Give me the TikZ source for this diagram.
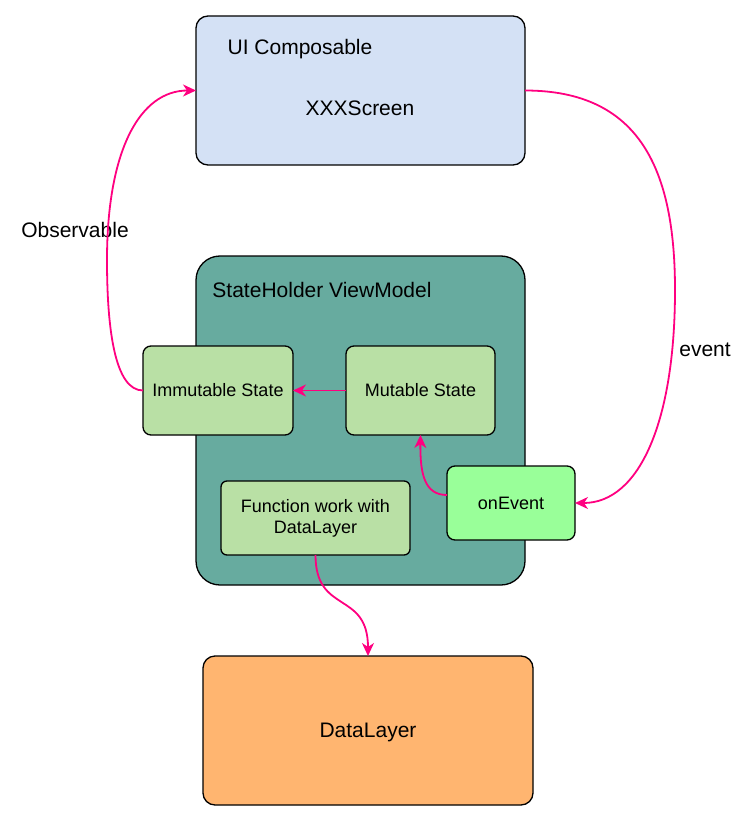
\documentclass[tikz,border=0pt]{standalone}
\usepackage{fontspec}
\setmainfont{Liberation Sans}
\usetikzlibrary{arrows.meta}
\definecolor{uiblue}{HTML}{D4E1F5}
\definecolor{shteal}{HTML}{67AB9F}
\definecolor{lgreen}{HTML}{B9E0A5}
\definecolor{brgreen}{HTML}{99FF99}
\definecolor{orng}{HTML}{FFB570}
\definecolor{pinkc}{HTML}{FF0080}
\begin{document}
\begin{tikzpicture}[x=1pt,y=-1pt,
  box/.style={draw=black, line width=1.3pt, rectangle, outer sep=0pt, inner sep=0pt},
  conn/.style={draw=pinkc, line width=1.8pt, -{Stealth[length=13pt,width=12pt,inset=4pt]}},
  big/.style={font=\fontsize{21}{25}\selectfont},
  small/.style={font=\fontsize{18}{21}\selectfont}]
\useasboundingbox (0,0) rectangle (745,834);
\node[box, fill=uiblue, rounded corners=12pt, minimum width=329pt, minimum height=149pt] (ui) at (360.5,90.5) {};
\node[big] (uilbl) at (300,49.5) {UI Composable};
\node[big] (scr) at (360,108.5) {XXXScreen};
\node[box, fill=shteal, rounded corners=24pt, minimum width=329pt, minimum height=329pt] (sh) at (360.5,420.5) {};
\node[big] (shlbl) at (322,289.5) {StateHolder ViewModel};
\node[box, fill=lgreen, rounded corners=8pt, minimum width=150pt, minimum height=89pt, small] (imm) at (218,390.5) {Immutable State};
\node[box, fill=lgreen, rounded corners=8pt, minimum width=149pt, minimum height=89pt, small] (mut) at (420.5,390.5) {Mutable State};
\node[box, fill=lgreen, rounded corners=6pt, minimum width=189pt, minimum height=74pt, small, align=center] (fn) at (315.5,518) {Function work with\\DataLayer};
\node[box, fill=brgreen, rounded corners=8pt, minimum width=128pt, minimum height=74pt, small] (ev) at (511,503) {onEvent};
\node[box, fill=orng, rounded corners=12pt, minimum width=330pt, minimum height=149pt, big, text depth=0pt] (dl) at (368,730.5) {DataLayer};
\node[big] (obs) at (75,229.5) {Observable};
\node[big] (evl) at (705,349.5) {event};
\draw[conn] (imm.west) .. controls (115,390.5) and (107,330) .. (107,260) .. controls (107,150) and (140,90.5) .. (ui.west);
\draw[conn] (ui.east) .. controls (640,90.5) and (675,170) .. (675,290) .. controls (675,420) and (640,503) .. (ev.east);
\draw[conn] (mut.west) -- (imm.east);
\draw[conn] ([yshift=8pt]ev.west) .. controls (425,495) and (420,475) .. (mut.south);
\draw[conn] (fn.south) .. controls (315.5,615) and (368,590) .. (dl.north);
\end{tikzpicture}
\end{document}
